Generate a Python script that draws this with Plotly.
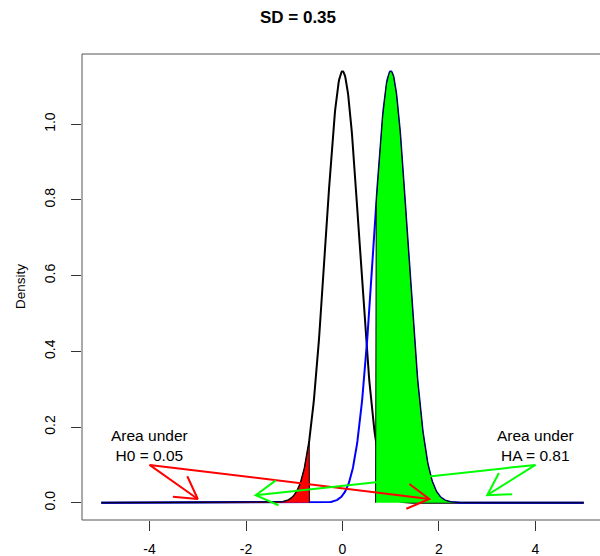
import numpy as np
import plotly.graph_objects as go

# ---- data ----
mean_h0 = 0.0
mean_ha = 1.0
sd = 0.35
crit = -0.686          # critical value (lower), mirrored for HA region
x_grid = np.linspace(-5, 5, 1001)

x_tick_vals = [-4, -2, 0, 2, 4]
x_tick_text = ["-4", "-2", "0", "2", "4"]
y_tick_vals = [0.0, 0.2, 0.4, 0.6, 0.8, 1.0]
y_tick_text = ["0.0", "0.2", "0.4", "0.6", "0.8", "1.0"]

label_h0 = "Area under<br>H0 = 0.05"
label_ha = "Area under<br>HA = 0.81"
label_h0_pos = (-4, 0.15)
label_ha_pos = (4, 0.15)
red_arrow_start = (-4, 0.1)
red_arrow_ends = [(-3, 0.01), (1.8, 0.01)]
green_arrow_start = (4, 0.1)
green_arrow_ends = [(3, 0.02), (-1.8, 0.02)]


def dnorm(x, m, s):
    return np.exp(-0.5 * ((x - m) / s) ** 2) / (s * np.sqrt(2 * np.pi))


y_h0 = dnorm(x_grid, mean_h0, sd)
y_ha = dnorm(x_grid, mean_ha, sd)

# ---- layout geometry ----
W, H = 600, 556
ml, mr, mt, mb = 82, 0, 54, 36
pw, ph = W - ml - mr, H - mt - mb
ymax = max(y_h0.max(), y_ha.max())
xr = [-5.4, -5.4 + pw / 48.24]
yr = [-0.04 * ymax, ymax * 1.04]
sx = pw / (xr[1] - xr[0])
sy = ph / (yr[1] - yr[0])

font = "Liberation Sans, Arial, Helvetica, sans-serif"

fig = go.Figure()
fig.add_trace(go.Scatter(x=x_grid, y=y_h0, mode="lines",
                         line=dict(color="black", width=2), hoverinfo="skip"))
fig.add_trace(go.Scatter(x=x_grid, y=y_ha, mode="lines",
                         line=dict(color="blue", width=2), hoverinfo="skip"))

# red polygon (H0 lower tail)
m = x_grid <= crit
xr_poly = list(x_grid[m]) + [crit]
yr_poly = list(y_h0[m]) + [0.0]
fig.add_trace(go.Scatter(x=xr_poly, y=yr_poly, fill="toself", fillcolor="#ff0000",
                         mode="lines", line=dict(color="black", width=1), hoverinfo="skip"))
# green polygon (HA beyond -crit)
m2 = x_grid >= -crit
xg_poly = [-crit] + list(x_grid[m2])
yg_poly = [0.0] + list(y_ha[m2])
fig.add_trace(go.Scatter(x=xg_poly, y=yg_poly, fill="toself", fillcolor="#00ff00",
                         mode="lines", line=dict(color="black", width=1), hoverinfo="skip"))


def arrow_xy(start, end, head_px=25, ang=np.deg2rad(30)):
    x0p = (start[0] - xr[0]) * sx
    y0p = -(start[1] - yr[0]) * sy
    x1p = (end[0] - xr[0]) * sx
    y1p = -(end[1] - yr[0]) * sy
    dx, dy = x0p - x1p, y0p - y1p
    n = np.hypot(dx, dy)
    ux, uy = dx / n, dy / n
    pts = []
    for a in (ang, -ang):
        hx = x1p + head_px * (ux * np.cos(a) - uy * np.sin(a))
        hy = y1p + head_px * (ux * np.sin(a) + uy * np.cos(a))
        pts.append((hx / sx + xr[0], -hy / sy + yr[0]))
    xs = [start[0], end[0], None, pts[0][0], end[0], pts[1][0]]
    ys = [start[1], end[1], None, pts[0][1], end[1], pts[1][1]]
    return xs, ys


for st, ends, col in ((red_arrow_start, red_arrow_ends, "#ff0000"),
                      (green_arrow_start, green_arrow_ends, "#00ff00")):
    for e in ends:
        xs, ys = arrow_xy(st, e)
        fig.add_trace(go.Scatter(x=xs, y=ys, mode="lines",
                                 line=dict(color=col, width=2), hoverinfo="skip"))

for txt, pos in ((label_h0, label_h0_pos), (label_ha, label_ha_pos)):
    fig.add_annotation(x=pos[0], y=pos[1], text=txt, showarrow=False,
                       xanchor="center", yanchor="middle",
                       font=dict(family=font, size=15.5, color="black"))

fig.add_annotation(xref="paper", yref="paper", x=0, y=0.5, xshift=-62,
                   text="Density", textangle=-90, showarrow=False,
                   xanchor="center", yanchor="middle",
                   font=dict(family=font, size=13.5, color="black"))

fig.add_shape(type="rect", xref="paper", yref="paper", x0=0, x1=1.02, y0=0, y1=1,
              line=dict(color="#555555", width=1), layer="above")

fig.update_layout(
    width=W, height=H,
    margin=dict(l=ml, r=mr, t=mt, b=mb, pad=0),
    plot_bgcolor="white", paper_bgcolor="white",
    showlegend=False,
    title=dict(text="<b>SD = 0.35</b>", x=298 / W, xref="container", xanchor="center",
               y=1 - 17 / H, yref="container", yanchor="middle",
               font=dict(family=font, size=17, color="black")),
    font=dict(family=font, size=14, color="black"),
)
fig.update_xaxes(range=xr, showgrid=False, zeroline=False, showline=False,
                 tickvals=x_tick_vals, ticktext=x_tick_text,
                 ticks="outside", ticklen=10, tickcolor="#333333",
                 ticklabelstandoff=6, tickfont=dict(family=font, size=14),
                 automargin=False)
fig.update_yaxes(range=yr, showgrid=False, zeroline=False, showline=False,
                 tickvals=y_tick_vals, ticktext=y_tick_text, tickangle=-90,
                 ticks="outside", ticklen=10, tickcolor="#333333",
                 ticklabelstandoff=10, tickfont=dict(family=font, size=14),
                 automargin=False)

fig.write_html("out.html", config={"displayModeBar": False},
               post_script="document.body.style.margin='0';document.body.style.overflow='hidden';")
